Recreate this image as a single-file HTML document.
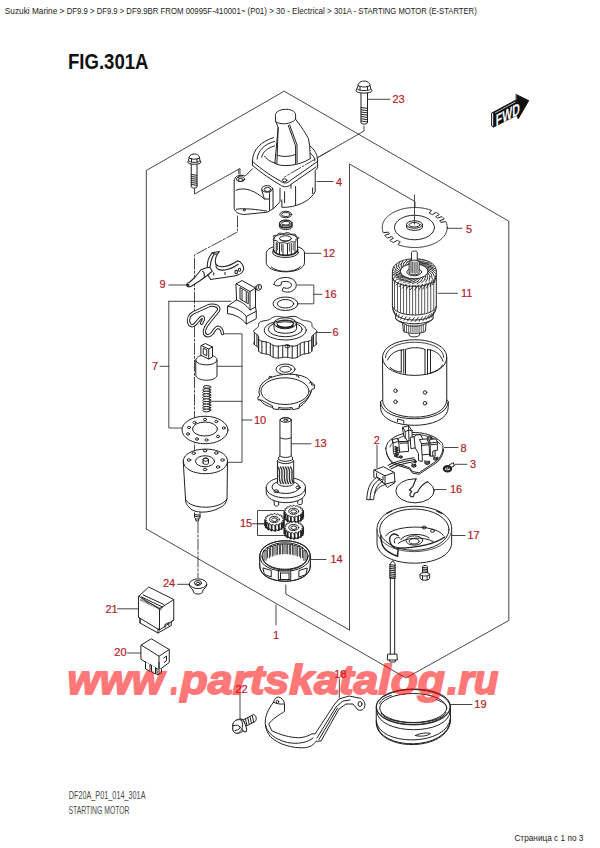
<!DOCTYPE html>
<html><head><meta charset="utf-8"><title>FIG.301A - STARTING MOTOR (E-STARTER)</title>
<style>
html,body{margin:0;padding:0;background:#fff;}
body{width:600px;height:848px;overflow:hidden;font-family:"Liberation Sans",sans-serif;}
svg{display:block;}
text{font-family:"Liberation Sans",sans-serif;}
</style></head><body>
<svg width="600" height="848" viewBox="0 0 600 848" fill="none" stroke="#222" stroke-linecap="round" stroke-linejoin="round">
<text y="13.9" font-size="9.1" fill="#222" stroke="none"><tspan x="4.8" textLength="61.9" lengthAdjust="spacingAndGlyphs">Suzuki Marine &gt; </tspan><tspan x="66.7" textLength="30.0" lengthAdjust="spacingAndGlyphs">DF9.9 &gt; </tspan><tspan x="96.7" textLength="29.6" lengthAdjust="spacingAndGlyphs">DF9.9 &gt; </tspan><tspan x="126.3" textLength="121.2" lengthAdjust="spacingAndGlyphs">DF9.9BR FROM 00995F-410001~ </tspan><tspan x="247.5" textLength="28.5" lengthAdjust="spacingAndGlyphs">(P01) &gt; </tspan><tspan x="276" textLength="58.0" lengthAdjust="spacingAndGlyphs">30 - Electrical &gt; </tspan><tspan x="334" textLength="142.7" lengthAdjust="spacingAndGlyphs">301A - STARTING MOTOR (E-STARTER)</tspan></text>
<text x="68" y="68.9" font-size="21.7" font-weight="bold" fill="#111" stroke="none" textLength="80.5" lengthAdjust="spacingAndGlyphs">FIG.301A</text>
<text x="68.7" y="798.8" font-size="11.3" fill="#4a4a4a" stroke="none" textLength="76.8" lengthAdjust="spacingAndGlyphs">DF20A_P01_014_301A</text>
<text x="68.5" y="813.8" font-size="11.3" fill="#4a4a4a" stroke="none" textLength="61" lengthAdjust="spacingAndGlyphs">STARTING MOTOR</text>
<text x="514.4" y="840.7" font-size="9" fill="#222" stroke="none" textLength="69" lengthAdjust="spacingAndGlyphs">Страница с 1 по 3</text>
<path d="M146.3,529 L146.3,170.5 L284.2,91.2 L508.8,221.2 L508.8,620.5 L406,678 L146.3,529" stroke="#333" stroke-width="0.9"/>
<path d="M349.5,630 L349.5,164 L415,201.5 L415,224" stroke="#333" stroke-width="0.9"/>
<path d="M285.8,585 L285.8,594 L349.5,630" stroke="#333" stroke-width="0.9"/>
<path d="M276,605 L276,625" stroke="#333" stroke-width="0.9"/>
<text x="273" y="639" font-size="11" fill="#b01e28" stroke="#b01e28" stroke-width="0.2">1</text>
<path d="M364,126 L364,131 L330,150.5 L310,162" stroke="#333" stroke-width="0.9"/>
<path d="M194.5,189 L194.5,194 L240,168.5 L240,178" stroke="#333" stroke-width="0.9"/>
<path d="M237.5,216 L237.5,232 L194.5,255 L194.5,452" stroke="#333" stroke-width="0.9" stroke-dasharray="11 2 2 2"/>
<path d="M198,522 L198,578" stroke="#333" stroke-width="0.9" stroke-dasharray="11 2 2 2"/>
<path d="M168.8,301.3 L231,301.3 M168.8,301.3 L168.8,428 L182,428 M160,366.3 L168.8,366.3" stroke="#333" stroke-width="0.9"/>
<text x="152" y="369.5" font-size="11" fill="#b01e28" stroke="#b01e28" stroke-width="0.2">7</text>
<path d="M224.5,333.8 L242,333.8 L242,462.3 L228,462.3 M217,366.3 L242,366.3 M211,401.3 L242,401.3 M242,420 L252,420" stroke="#333" stroke-width="0.9"/>
<text x="254" y="423.5" font-size="11" fill="#b01e28" stroke="#b01e28" stroke-width="0.2">10</text>
<path d="M368,99.3 L390,99.3" stroke="#333" stroke-width="0.9"/>
<text x="392.5" y="102.7" font-size="11" fill="#b01e28" stroke="#b01e28" stroke-width="0.2">23</text>
<path d="M317,181.5 L333,181.5" stroke="#333" stroke-width="0.9"/>
<text x="336" y="186" font-size="11" fill="#b01e28" stroke="#b01e28" stroke-width="0.2">4</text>
<path d="M305,253.3 L321,253.3" stroke="#333" stroke-width="0.9"/>
<text x="323" y="257" font-size="11" fill="#b01e28" stroke="#b01e28" stroke-width="0.2">12</text>
<path d="M297.5,285 L313.8,285 L313.8,303.8 L299,303.8 M313.8,294.3 L322,294.3" stroke="#333" stroke-width="0.9"/>
<text x="324.5" y="297.7" font-size="11" fill="#b01e28" stroke="#b01e28" stroke-width="0.2">16</text>
<path d="M315,332.5 L331,332.5" stroke="#333" stroke-width="0.9"/>
<text x="332.5" y="335.5" font-size="11" fill="#b01e28" stroke="#b01e28" stroke-width="0.2">6</text>
<path d="M168.8,285 L186,285" stroke="#333" stroke-width="0.9"/>
<text x="159.5" y="287.7" font-size="11" fill="#b01e28" stroke="#b01e28" stroke-width="0.2">9</text>
<path d="M447,228.3 L462,228.3" stroke="#333" stroke-width="0.9"/>
<text x="466" y="232.5" font-size="11" fill="#b01e28" stroke="#b01e28" stroke-width="0.2">5</text>
<path d="M438,293.3 L457.5,293.3" stroke="#333" stroke-width="0.9"/>
<text x="461" y="297" font-size="11" fill="#b01e28" stroke="#b01e28" stroke-width="0.2">11</text>
<path d="M290,443.8 L311,443.8" stroke="#333" stroke-width="0.9"/>
<text x="314.5" y="447.2" font-size="11" fill="#b01e28" stroke="#b01e28" stroke-width="0.2">13</text>
<path d="M252.5,523.8 L265,523.8" stroke="#333" stroke-width="0.9"/>
<text x="240" y="527" font-size="11" fill="#b01e28" stroke="#b01e28" stroke-width="0.2">15</text>
<path d="M311,559.5 L326,559.5" stroke="#333" stroke-width="0.9"/>
<text x="330.5" y="563" font-size="11" fill="#b01e28" stroke="#b01e28" stroke-width="0.2">14</text>
<path d="M377,445 L377,467.5" stroke="#333" stroke-width="0.9"/>
<text x="373.8" y="443.8" font-size="11" fill="#b01e28" stroke="#b01e28" stroke-width="0.2">2</text>
<path d="M444.5,447.5 L458,447.5" stroke="#333" stroke-width="0.9"/>
<text x="460.5" y="451.5" font-size="11" fill="#b01e28" stroke="#b01e28" stroke-width="0.2">8</text>
<path d="M455,464.3 L467,464.3" stroke="#333" stroke-width="0.9"/>
<text x="470" y="468.2" font-size="11" fill="#b01e28" stroke="#b01e28" stroke-width="0.2">3</text>
<path d="M432.5,489.5 L446,489.5" stroke="#333" stroke-width="0.9"/>
<text x="450" y="493.3" font-size="11" fill="#b01e28" stroke="#b01e28" stroke-width="0.2">16</text>
<path d="M452,535.5 L465,535.5" stroke="#333" stroke-width="0.9"/>
<text x="467.5" y="539.3" font-size="11" fill="#b01e28" stroke="#b01e28" stroke-width="0.2">17</text>
<path d="M177.5,584.3 L189,584.3" stroke="#333" stroke-width="0.9"/>
<text x="163" y="587.2" font-size="11" fill="#b01e28" stroke="#b01e28" stroke-width="0.2">24</text>
<path d="M117.5,608.8 L138,608.8" stroke="#333" stroke-width="0.9"/>
<text x="105.5" y="612.5" font-size="11" fill="#b01e28" stroke="#b01e28" stroke-width="0.2">21</text>
<path d="M127.5,653 L141,653" stroke="#333" stroke-width="0.9"/>
<text x="114.3" y="656.3" font-size="11" fill="#b01e28" stroke="#b01e28" stroke-width="0.2">20</text>
<path d="M240,693.8 L240,718.8" stroke="#333" stroke-width="0.9"/>
<text x="235.5" y="692.5" font-size="11" fill="#b01e28" stroke="#b01e28" stroke-width="0.2">22</text>
<path d="M339.3,678.8 L339.3,697.5" stroke="#333" stroke-width="0.9"/>
<text x="334.3" y="677.5" font-size="11" fill="#b01e28" stroke="#b01e28" stroke-width="0.2">18</text>
<path d="M450,704.5 L472,704.5" stroke="#333" stroke-width="0.9"/>
<text x="474.3" y="708" font-size="11" fill="#b01e28" stroke="#b01e28" stroke-width="0.2">19</text>
<g transform="translate(330 70) scale(0.25)" stroke-width="4.00" ><path d="M112,62 C112,38 160,38 160,62 L163,75 C163,85 108,85 108,75 Z" fill="#fff"/><path d="M108,75 L104,82 C104,96 168,96 168,82 L163,75 M120,66 L120,80 M150,66 L150,80 M112,62 C125,70 148,70 160,62" /><path d="M124,92 L124,212 C128,218 146,218 150,212 L150,92" /><path d="M124,150L150,153.6M124,159L150,162.6M124,168L150,171.6M124,177L150,180.6M124,186L150,189.6M124,195L150,198.6M124,204L150,207.6" /></g>
<g transform="translate(130 80) scale(0.25)" stroke-width="4.00" ><path d="M236,312 C236,290 278,290 278,312 L280,322 C280,332 234,332 234,322 Z" fill="#fff"/><path d="M234,322 L231,328 C231,340 284,340 284,328 L280,322 M246,314 L246,328 M268,314 L268,328 M236,312 C248,319 268,319 278,312" /><path d="M245,337 L245,428 C250,434 264,434 268,428 L268,337" /><path d="M245,378L268,381.2M245,386L268,389.2M245,394L268,397.2M245,402L268,405.2M245,410L268,413.2M245,418L268,421.2" /></g>
<g transform="translate(225 100) scale(0.18333333333333332)" stroke-width="5.45" ><path d="M275,80 C275,40 385,40 385,80 L385,105 L455,210 L462,250 C490,270 505,300 505,330 L505,370 L492,385 L492,500 C470,540 420,575 340,585 L310,585 L310,545 L300,555 L265,592 L230,612 L110,624 C80,625 55,615 50,590 L50,440 C50,415 80,405 110,415 L150,375 L150,330 C150,270 200,225 262,205 L278,120 Z" fill="#fff" stroke="none"/><path d="M275,82 C275,40 385,40 385,82 L385,105 C360,135 300,135 278,120 Z" /><path d="M278,120 L290,150 L272,345 M290,150 L283,350 M385,105 C420,150 445,190 455,210 L462,250 L465,320" /><path d="M345,138 L385,250 L385,348 M353,136 L393,246 L393,344" /><path d="M283,300 C310,312 360,310 385,296 M272,345 C300,368 400,362 465,320" /><path d="M150,330 C150,270 200,225 265,205 M175,322 C180,275 215,240 270,226 M200,312 C205,285 230,262 270,250 M215,306 C235,330 258,342 275,343" /><path d="M462,250 C490,270 505,300 505,330 M466,290 C480,300 490,315 490,332" /><path d="M150,330 L150,356 M150,335 C200,380 260,420 300,440 C320,458 340,456 355,440 L505,335" /><path d="M150,356 C200,400 260,440 300,462 C320,478 345,476 360,460 L497,365" /><ellipse cx="325" cy="438" rx="13" ry="8" /><path d="M505,330 L505,370 L492,385 L492,500 C470,540 420,575 340,585 L310,585 L310,545 M360,462 L360,482 M385,472 L385,575 M325,500 L325,560 M478,480 L478,510" /><path d="M50,440 C50,415 80,405 110,415 L150,375 M50,440 L50,590 C55,615 80,625 110,624 L230,612 L265,592 L300,555 L300,482" /><ellipse cx="85" cy="432" rx="22" ry="13" /><ellipse cx="85" cy="436" rx="14" ry="8" /><path d="M60,492 C110,470 170,500 215,540 L243,540" /><ellipse cx="230" cy="485" rx="30" ry="18" /><ellipse cx="232" cy="488" rx="18" ry="11" /><path d="M200,490 L215,540 M262,490 L262,592 M243,505 L243,600" /><ellipse cx="105" cy="600" rx="6" ry="5" /><path d="M62,596 C100,588 180,598 228,606" /></g>
<g transform="translate(215 95) scale(0.25)" stroke-width="4.00" ><ellipse cx="283" cy="478" rx="24" ry="13" /><ellipse cx="283" cy="478" rx="17" ry="8" /><path d="M258,512 C258,498 308,498 308,512 L308,528 C308,542 258,542 258,528 Z" fill="#fff"/><ellipse cx="283" cy="512" rx="25" ry="12" /><ellipse cx="283" cy="513" rx="17" ry="7" /><path d="M258,520 C262,534 304,534 308,520" stroke-width="6"/></g>
<g transform="translate(215 225) scale(0.25)" stroke-width="4.00" ><path d="M205,112 C205,70 358,70 358,112 L358,150 C358,200 205,200 205,150 Z" fill="#fff"/><path d="M225,168 C250,192 320,192 342,166" /><ellipse cx="282" cy="110" rx="52" ry="20" /><path d="M235,108 L235,55 C235,30 330,30 330,55 L330,108" fill="#fff"/><path d="M334.8,52.0L333.9,53.4L331.4,54.7L328.2,55.8L325.1,56.8L323.0,57.8L322.2,58.9L322.7,60.4L323.6,62.0L324.1,63.7L323.6,65.3L321.6,66.5L318.3,67.1L314.3,67.3L310.1,67.3L306.5,67.2L303.6,67.6L301.5,68.4L299.7,69.8L297.7,71.3L295.3,72.7L292.3,73.5L288.8,73.7L285.3,73.1L282.0,72.0L279.0,70.8L276.3,70.0L273.6,69.7L270.5,70.0L266.9,70.6L262.9,71.2L259.0,71.4L255.6,71.1L253.1,70.0L251.7,68.5L251.0,66.7L250.5,65.1L249.5,63.9L247.4,63.1L244.3,62.5L240.4,62.0L236.6,61.3L233.6,60.4L232.1,59.1L232.4,57.5L234.0,56.0L236.2,54.5L238.1,53.2L238.8,52.0L238.1,50.8L236.2,49.5L234.0,48.0L232.4,46.5L232.1,44.9L233.6,43.6L236.6,42.7L240.4,42.0L244.3,41.5L247.4,40.9L249.5,40.1L250.5,38.9L251.0,37.3L251.7,35.5L253.1,34.0L255.6,32.9L259.0,32.6L262.9,32.8L266.9,33.4L270.5,34.0L273.6,34.3L276.3,34.0L279.0,33.2L282.0,32.0L285.3,30.9L288.8,30.3L292.3,30.5L295.3,31.3L297.7,32.7L299.7,34.2L301.5,35.6L303.6,36.4L306.5,36.8L310.1,36.7L314.3,36.7L318.3,36.9L321.6,37.5L323.6,38.7L324.1,40.3L323.6,42.0L322.7,43.6L322.2,45.1L323.0,46.2L325.1,47.2L328.2,48.2L331.4,49.3L333.9,50.6L334.8,52.0" /><path d="M245,70 L245,112 M258,74 L258,118 M272,76 L272,122 M290,76 L290,122 M305,74 L305,118 M320,70 L320,112" /><path d="M250,72 L250,100 M266,76 L266,105 M298,76 L298,105 M313,72 L313,100" stroke="#666"/><ellipse cx="282" cy="54" rx="24" ry="11" fill="#fff"/><path d="M262,58 C268,66 296,66 302,58" /><path d="M233,100 C245,128 320,128 331,100" stroke-width="7"/><path d="M236,238 C236,215 275,205 300,212 C328,220 332,248 315,260 C300,272 278,270 268,262 L274,250 C290,258 306,250 306,240 C306,228 285,222 266,228 L264,240 C252,246 238,244 236,238 Z" /><ellipse cx="282" cy="315" rx="50" ry="27" /><ellipse cx="282" cy="315" rx="33" ry="17" /><path d="M161,425 L161,473 C181,553 381,553 401,473 L401,425 Z" fill="#fff" stroke="none"/><path d="M404.4,467.7L405.7,469.3L406.6,471.0L407.0,472.7L406.8,474.4L406.1,476.1L404.9,477.8L403.2,479.4L401.3,481.0L399.2,482.5L397.0,483.9L394.9,485.3L393.0,486.7L391.3,488.1L390.0,489.6L389.0,491.0L388.4,492.6L388.0,494.2L387.9,495.9L387.9,497.6L387.9,499.4L387.9,501.2L387.6,503.0L387.0,504.8L386.0,506.5L384.6,508.1L382.7,509.6L380.4,510.8L377.7,512.0L374.6,512.9L371.3,513.7L367.9,514.4L364.4,515.0L360.9,515.5L357.5,516.0L354.4,516.6L351.4,517.3L348.7,518.1L346.2,519.1L343.9,520.2L341.7,521.4L339.6,522.7L337.5,524.2L335.4,525.6L333.1,527.1L330.6,528.5L328.0,529.7L325.1,530.7L322.0,531.5L318.7,532.1L315.3,532.4L311.7,532.5L308.1,532.3L304.5,531.9L300.9,531.4L297.4,530.9L293.9,530.3L290.6,529.8L287.3,529.4L284.2,529.1L281.0,529.0L277.8,529.1L274.7,529.4L271.4,529.8L268.1,530.3L264.6,530.9L261.1,531.4L257.5,531.9L253.9,532.3L250.3,532.5L246.7,532.4L243.3,532.1L240.0,531.5L236.9,530.7L234.0,529.7L231.4,528.5L228.9,527.1L226.6,525.6L224.5,524.2L222.4,522.7L220.3,521.4L218.1,520.2L215.8,519.1L213.3,518.1L210.6,517.3L207.6,516.6L204.5,516.0L201.1,515.5L197.6,515.0L194.1,514.4L190.7,513.7L187.4,512.9L184.3,512.0L181.6,510.8L179.3,509.6L177.4,508.1L176.0,506.5L175.0,504.8L174.4,503.0L174.1,501.2L174.1,499.4L174.1,497.6L174.1,495.9L174.0,494.2L173.6,492.6L173.0,491.0L172.0,489.6L170.7,488.1L169.0,486.7L167.1,485.3L165.0,483.9L162.8,482.5L160.7,481.0L158.8,479.4L157.1,477.8L155.9,476.1L155.2,474.4L155.0,472.7L155.4,471.0L156.3,469.3L157.6,467.7" fill="#fff"/><path d="M407.0,425.0L406.6,426.9L405.6,428.9L404.0,430.7L401.9,432.5L399.5,434.2L397.1,435.9L394.7,437.5L392.5,439.1L390.8,440.7L389.4,442.3L388.5,444.0L388.1,445.8L387.9,447.7L387.9,449.7L387.9,451.8L387.8,453.9L387.3,455.9L386.4,457.9L385.0,459.7L382.9,461.4L380.3,462.9L377.2,464.1L373.7,465.2L369.8,466.0L365.9,466.7L361.9,467.3L358.0,468.0L354.4,468.6L351.1,469.4L348.0,470.3L345.2,471.5L342.7,472.8L340.3,474.3L337.9,475.9L335.5,477.6L332.9,479.2L330.1,480.7L327.0,482.1L323.6,483.2L319.9,483.9L316.1,484.4L312.0,484.5L307.9,484.3L303.8,483.9L299.8,483.3L295.8,482.6L292.0,482.0L288.2,481.5L284.6,481.2L281.0,481.1L277.4,481.2L273.8,481.5L270.0,482.0L266.2,482.6L262.2,483.3L258.2,483.9L254.1,484.3L250.0,484.5L245.9,484.4L242.1,483.9L238.4,483.2L235.0,482.1L231.9,480.7L229.1,479.2L226.5,477.6L224.1,475.9L221.7,474.3L219.3,472.8L216.8,471.5L214.0,470.3L210.9,469.4L207.6,468.6L204.0,468.0L200.1,467.3L196.1,466.7L192.2,466.0L188.3,465.2L184.8,464.1L181.7,462.9L179.1,461.4L177.0,459.7L175.6,457.9L174.7,455.9L174.2,453.9L174.1,451.8L174.1,449.7L174.1,447.7L173.9,445.8L173.5,444.0L172.6,442.3L171.2,440.7L169.5,439.1L167.3,437.5L164.9,435.9L162.5,434.2L160.1,432.5L158.0,430.7L156.4,428.9L155.4,426.9L155.0,425.0L155.4,423.1L156.4,421.1L158.0,419.3L160.1,417.5L162.5,415.8L164.9,414.1L167.3,412.5L169.5,410.9L171.2,409.3L172.6,407.7L173.5,406.0L173.9,404.2L174.1,402.3L174.1,400.3L174.1,398.2L174.2,396.1L174.7,394.1L175.6,392.1L177.0,390.3L179.1,388.6L181.7,387.1L184.8,385.9L188.3,384.8L192.2,384.0L196.1,383.3L200.1,382.7L204.0,382.0L207.6,381.4L210.9,380.6L214.0,379.7L216.8,378.5L219.3,377.2L221.7,375.7L224.1,374.1L226.5,372.4L229.1,370.8L231.9,369.3L235.0,367.9L238.4,366.8L242.1,366.1L245.9,365.6L250.0,365.5L254.1,365.7L258.2,366.1L262.2,366.7L266.2,367.4L270.0,368.0L273.8,368.5L277.4,368.8L281.0,368.9L284.6,368.8L288.2,368.5L292.0,368.0L295.8,367.4L299.8,366.7L303.8,366.1L307.9,365.7L312.0,365.5L316.1,365.6L319.9,366.1L323.6,366.8L327.0,367.9L330.1,369.3L332.9,370.8L335.5,372.4L337.9,374.1L340.3,375.7L342.7,377.2L345.2,378.5L348.0,379.7L351.1,380.6L354.4,381.4L358.0,382.0L361.9,382.7L365.9,383.3L369.8,384.0L373.7,384.8L377.2,385.9L380.3,387.1L382.9,388.6L385.0,390.3L386.4,392.1L387.3,394.1L387.8,396.1L387.9,398.2L387.9,400.3L387.9,402.3L388.1,404.2L388.5,406.0L389.4,407.7L390.8,409.3L392.5,410.9L394.7,412.5L397.1,414.1L399.5,415.8L401.9,417.5L404.0,419.3L405.6,421.1L406.6,423.1L407.0,425.0" fill="#fff"/><path d="M404.4,430.3L404.4,478.3" /><path d="M394.2,437.8L394.2,485.8" /><path d="M387.9,447.3L387.9,495.3" /><path d="M387.2,456.4L387.2,504.4" /><path d="M374.5,465.0L374.5,513.0" /><path d="M357.2,468.1L357.2,516.1" /><path d="M340.8,473.9L340.8,521.9" /><path d="M329.4,481.1L329.4,529.1" /><path d="M308.9,484.3L308.9,532.3" /><path d="M291.1,481.9L291.1,529.9" /><path d="M270.9,481.9L270.9,529.9" /><path d="M253.1,484.3L253.1,532.3" /><path d="M232.6,481.1L232.6,529.1" /><path d="M221.2,473.9L221.2,521.9" /><path d="M204.8,468.1L204.8,516.1" /><path d="M187.5,465.0L187.5,513.0" /><path d="M174.8,456.4L174.8,504.4" /><path d="M174.1,447.3L174.1,495.3" /><path d="M167.8,437.8L167.8,485.8" /><path d="M157.6,430.3L157.6,478.3" /><ellipse cx="281" cy="421" rx="84" ry="39" /><ellipse cx="281" cy="417" rx="68" ry="30" /><path d="M236,393 L236,415 C236,439 326,439 326,415 L326,393" fill="#fff"/><ellipse cx="281" cy="393" rx="45" ry="22" /><ellipse cx="281" cy="395" rx="33" ry="15" /><path d="M250,401 C256,413 306,413 312,401" stroke-width="7"/><ellipse cx="289" cy="485" rx="9" ry="7" /><ellipse cx="282" cy="577" rx="38" ry="21" /><ellipse cx="282" cy="577" rx="23" ry="12" /></g>
<g transform="translate(180 245) scale(0.15)" stroke-width="7"><path d="M215,52 L262,44 C240,70 228,100 240,128 C260,155 320,150 385,105 C405,110 425,135 425,160 C420,185 400,195 385,200 C340,215 280,215 235,225 L205,230 L185,200 L165,215 L130,240 L75,275 C55,285 40,275 45,262 C48,252 58,250 62,250 L100,215 L140,165 L182,150 C180,110 195,75 215,52 Z" fill="#fff"/><path d="M240,128 L242,152 C262,178 325,172 388,128 M215,52 C222,60 232,62 245,60 M200,150 C205,120 205,90 228,62 M182,150 L200,150 L215,175 L185,200 M225,185 L225,200 M300,182 L300,196 M150,175 C160,180 165,195 160,212" /><ellipse cx="375" cy="180" rx="9" ry="11" /><ellipse cx="397" cy="165" rx="8" ry="10" /><ellipse cx="54" cy="268" rx="6" ry="6" /></g>
<g transform="translate(150 250) scale(0.25)" stroke-width="4.00" ><path d="M345,135 L368,122 L422,152 L422,228 L425,245 L425,275 L385,296 C370,275 340,256 310,255 L310,225 L345,200 Z" fill="#fff"/><path d="M345,135 L400,166 L422,152 M400,166 L400,240 L422,228 M345,200 C365,205 385,220 400,240 M360,152 L360,196 L393,215 L393,171 Z M368,160 L368,198 M385,170 L385,208" /><path d="M310,225 C340,228 370,245 385,266 L385,296 M385,266 L425,245" /><path d="M420,162 L430,158 M420,148 L430,144" /><ellipse cx="434" cy="150" rx="8" ry="12" fill="#fff"/><ellipse cx="440" cy="148" rx="6" ry="10" fill="#fff"/><path d="M183,440 C183,412 268,412 268,440 L268,500 C268,528 183,528 183,500 Z" fill="#fff"/><path d="M183,442 C188,466 263,466 268,442" /><path d="M205,382 L222,374 L250,388 L250,428 L235,436 L205,422 Z" fill="#fff"/><path d="M205,382 L235,396 L250,388 M235,396 L235,436 M213,394 L213,416 L227,423 L227,401 Z" /><ellipse cx="228" cy="548.0" rx="15.0" ry="5.622222222222223" fill="#fff"/><ellipse cx="228" cy="558.2" rx="15.0" ry="5.622222222222223" fill="#fff"/><ellipse cx="228" cy="568.4" rx="15.0" ry="5.622222222222223" fill="#fff"/><ellipse cx="228" cy="578.7" rx="15.0" ry="5.622222222222223" fill="#fff"/><ellipse cx="228" cy="588.9" rx="15.0" ry="5.622222222222223" fill="#fff"/><ellipse cx="228" cy="599.1" rx="15.0" ry="5.622222222222223" fill="#fff"/><ellipse cx="228" cy="609.3" rx="15.0" ry="5.622222222222223" fill="#fff"/><ellipse cx="228" cy="619.6" rx="15.0" ry="5.622222222222223" fill="#fff"/><ellipse cx="228" cy="629.8" rx="15.0" ry="5.622222222222223" fill="#fff"/><ellipse cx="228" cy="640.0" rx="15.0" ry="5.622222222222223" fill="#fff"/></g>
<g transform="translate(180 300) scale(0.1)"><path d="M425,335 C420,300 405,275 380,272 C355,272 340,310 320,335 C300,360 265,368 248,340 C235,315 255,270 280,235 L385,105 C395,85 380,60 350,55 C320,48 300,50 280,60 L130,130 C95,150 80,190 88,225 C95,255 120,265 140,250 C170,230 190,190 215,172 C230,165 240,185 230,205 L215,232" stroke-width="34" fill="#fff"/><path d="M425,335 C420,300 405,275 380,272 C355,272 340,310 320,335 C300,360 265,368 248,340 C235,315 255,270 280,235 L385,105 C395,85 380,60 350,55 C320,48 300,50 280,60 L130,130 C95,150 80,190 88,225 C95,255 120,265 140,250 C170,230 190,190 215,172 C230,165 240,185 230,205 L215,232" stroke="#fff" stroke-width="14"/></g>
<g transform="translate(130 400) scale(0.25)" stroke-width="4.00" ><ellipse cx="306" cy="-40.0" rx="15.0" ry="5.6375" fill="#fff"/><ellipse cx="306" cy="-29.8" rx="15.0" ry="5.6375" fill="#fff"/><ellipse cx="306" cy="-19.5" rx="15.0" ry="5.6375" fill="#fff"/><ellipse cx="306" cy="-9.2" rx="15.0" ry="5.6375" fill="#fff"/><ellipse cx="306" cy="1.0" rx="15.0" ry="5.6375" fill="#fff"/><ellipse cx="306" cy="11.2" rx="15.0" ry="5.6375" fill="#fff"/><ellipse cx="306" cy="21.5" rx="15.0" ry="5.6375" fill="#fff"/><ellipse cx="306" cy="31.8" rx="15.0" ry="5.6375" fill="#fff"/><ellipse cx="306" cy="42.0" rx="15.0" ry="5.6375" fill="#fff"/><ellipse cx="300" cy="120" rx="92" ry="55" fill="#fff"/><ellipse cx="300" cy="116" rx="50" ry="28" /><ellipse cx="258" cy="90" rx="6" ry="5" /><ellipse cx="300" cy="78" rx="6" ry="5" /><ellipse cx="345" cy="86" rx="6" ry="5" /><ellipse cx="375" cy="112" rx="6" ry="5" /><ellipse cx="352" cy="146" rx="6" ry="5" /><ellipse cx="306" cy="160" rx="6" ry="5" /><ellipse cx="268" cy="156" rx="6" ry="5" /><ellipse cx="232" cy="136" rx="6" ry="5" /><ellipse cx="236" cy="110" rx="6" ry="5" /><path d="M213,245 C213,180 390,180 390,245 L388,395 C385,412 375,425 360,430 C320,455 250,455 236,428 C226,420 222,410 222,398 Z" fill="#fff"/><path d="M213,245 C213,312 390,312 390,245 M222,398 C240,440 365,440 388,395" /><ellipse cx="300" cy="245" rx="38" ry="22" /><path d="M292,252 L292,238 C292,230 314,230 314,238 L314,252 C314,260 292,260 292,252 Z" fill="#fff"/><ellipse cx="303" cy="239" rx="11" ry="6" /><ellipse cx="255" cy="213" rx="7" ry="5" /><ellipse cx="300" cy="203" rx="7" ry="5" /><ellipse cx="345" cy="212" rx="7" ry="5" /><ellipse cx="370" cy="240" rx="7" ry="5" /><ellipse cx="352" cy="268" rx="7" ry="5" /><ellipse cx="300" cy="278" rx="7" ry="5" /><ellipse cx="236" cy="240" rx="7" ry="5" /><path d="M258,452 L258,470 C262,478 276,478 280,470 L280,450 M258,458 L280,461 M258,465 L280,468" fill="#fff"/><path d="M262,474 L264,484 L274,484 L276,474" /></g>
<g transform="translate(350 195) scale(0.25)" stroke-width="4.00" ><path d="M389.0,130.0L389.0,131.4L388.9,132.8L388.8,134.2L388.7,135.6L388.5,137.0L388.3,138.4L388.0,139.7L387.7,141.1L387.4,142.5L387.0,143.9L386.6,145.3L386.2,146.6L385.7,148.0L385.1,149.4L384.6,150.7L384.0,152.1L383.3,153.4L382.6,154.7L381.9,156.0L381.2,157.4L380.4,158.7L379.5,160.0L378.7,161.3L377.8,162.5L376.8,163.8L375.8,165.1L374.8,166.3L373.8,167.6L372.7,168.8L371.6,170.0L370.4,171.2L369.2,172.4L368.0,173.6L366.8,174.7L365.5,175.9L364.2,177.0L362.8,178.1L361.4,179.3L360.0,180.3L358.6,181.4L357.1,182.5L355.6,183.5L354.1,184.6L352.5,185.6L350.9,186.6L349.3,187.5L347.7,188.5L346.0,189.5L344.3,190.4L342.6,191.3L340.8,192.2L339.0,193.0L337.2,193.9L335.4,194.7L333.6,195.5L331.7,196.3L329.8,197.1L327.9,197.8L326.0,198.6L324.0,199.3L322.0,200.0L320.0,200.6L318.0,201.3L316.0,201.9L313.9,202.5L311.9,203.1L309.8,203.6L307.7,204.2L305.6,204.7L303.5,205.2L301.3,205.6L299.2,206.1L297.0,206.5L294.8,206.9L292.6,207.3L290.4,207.6L288.2,207.9L286.0,208.3L283.8,208.5L281.6,208.8L279.3,209.0L277.1,209.2L274.8,209.4L272.6,209.6L270.3,209.7L268.1,209.8L265.8,209.9L263.5,210.0L261.3,210.0L259.0,210.0L256.7,210.0L254.5,210.0L252.2,209.9L249.9,209.8L247.7,209.7L245.4,209.6L243.2,209.4L240.9,209.2L238.7,209.0L236.4,208.8L234.2,208.5L232.0,208.3L229.8,207.9L227.6,207.6L225.4,207.3L223.2,206.9L221.0,206.5L218.8,206.1L216.7,205.6L214.5,205.2L212.4,204.7L210.3,204.2L208.2,203.6L206.1,203.1L204.1,202.5L202.0,201.9L200.0,201.3L198.0,200.6L196.0,200.0L194.0,199.3L192.0,198.6L201.1,187.0L199.5,186.4L197.9,185.7L196.4,185.0L194.8,184.4L193.3,183.7L191.8,183.0L190.3,182.2L188.8,181.5L173.7,190.4L172.0,189.5L170.3,188.5L168.7,187.5L167.1,186.6L165.5,185.6L163.9,184.6L162.4,183.5L160.9,182.5L159.4,181.4L174.1,172.3L172.9,171.4L171.8,170.4L170.7,169.5L169.5,168.5L168.5,167.6L167.4,166.6L148.8,172.4L147.6,171.2L146.4,170.0L145.3,168.8L144.2,167.6L143.2,166.3L142.2,165.1L141.2,163.8L140.2,162.5L139.3,161.3L157.8,155.2L157.1,154.1L156.4,153.0L155.7,151.9L155.1,150.8L154.6,149.6L154.0,148.5L133.4,150.7L132.9,149.4L132.3,148.0L131.8,146.6L131.4,145.3L131.0,143.9L130.6,142.5L130.3,141.1L130.0,139.7L129.7,138.4L129.5,137.0L129.3,135.6L129.2,134.2L129.1,132.8L129.0,131.4L129.0,130.0L129.0,128.6L129.1,127.2L129.2,125.8L129.3,124.4L129.5,123.0L129.7,121.6L130.0,120.3L130.3,118.9L130.6,117.5L131.0,116.1L131.4,114.7L131.8,113.4L132.3,112.0L132.9,110.6L133.4,109.3L134.0,107.9L134.7,106.6L135.4,105.3L136.1,104.0L136.8,102.6L137.6,101.3L138.5,100.0L139.3,98.7L140.2,97.5L141.2,96.2L142.2,94.9L143.2,93.7L144.2,92.4L145.3,91.2L146.4,90.0L147.6,88.8L148.8,87.6L150.0,86.4L151.2,85.3L152.5,84.1L153.8,83.0L155.2,81.9L156.6,80.7L158.0,79.7L159.4,78.6L160.9,77.5L162.4,76.5L163.9,75.4L165.5,74.4L167.1,73.4L168.7,72.5L170.3,71.5L172.0,70.5L173.7,69.6L175.4,68.7L177.2,67.8L179.0,67.0L180.8,66.1L182.6,65.3L184.4,64.5L186.3,63.7L188.2,62.9L190.1,62.2L192.0,61.4L194.0,60.7L196.0,60.0L198.0,59.4L200.0,58.7L202.0,58.1L204.1,57.5L206.1,56.9L208.2,56.4L210.3,55.8L212.4,55.3L214.5,54.8L216.7,54.4L218.8,53.9L221.0,53.5L223.2,53.1L225.4,52.7L227.6,52.4L229.8,52.1L232.0,51.7L234.2,51.5L236.4,51.2L238.7,51.0L240.9,50.8L243.2,50.6L245.4,50.4L247.7,50.3L249.9,50.2L252.2,50.1L254.5,50.0L256.7,50.0L259.0,50.0L261.3,50.0L263.5,50.0L265.8,50.1L268.1,50.2L270.3,50.3L272.6,50.4L274.8,50.6L277.1,50.8L279.3,51.0L281.6,51.2L283.8,51.5L286.0,51.7L288.2,52.1L290.4,52.4L292.6,52.7L294.8,53.1L297.0,53.5L299.2,53.9L301.3,54.4L303.5,54.8L305.6,55.3L307.7,55.8L309.8,56.4L311.9,56.9L313.9,57.5L316.0,58.1L318.0,58.7L320.0,59.4L322.0,60.0L324.0,60.7L326.0,61.4L316.9,73.0L318.5,73.6L320.1,74.3L321.6,75.0L323.2,75.6L324.7,76.3L326.2,77.0L327.7,77.8L329.2,78.5L344.3,69.6L346.0,70.5L347.7,71.5L349.3,72.5L350.9,73.4L352.5,74.4L354.1,75.4L355.6,76.5L357.1,77.5L342.7,86.8L343.9,87.7L345.1,88.6L346.2,89.6L347.3,90.5L348.5,91.5L349.5,92.4L368.0,86.4L369.2,87.6L370.4,88.8L371.6,90.0L372.7,91.2L373.8,92.4L374.8,93.7L375.8,94.9L376.8,96.2L358.8,102.7L359.5,103.7L360.2,104.8L360.9,105.9L361.6,107.0L362.3,108.1L362.9,109.2L383.3,106.6L384.0,107.9L384.6,109.3L385.1,110.6L385.7,112.0L386.2,113.4L386.6,114.7L387.0,116.1L387.4,117.5L387.7,118.9L388.0,120.3L388.3,121.6L388.5,123.0L388.7,124.4L388.8,125.8L388.9,127.2L389.0,128.6L389.0,130.0Z" fill="#fff"/><ellipse cx="258" cy="130" rx="80" ry="49" /><path d="M226,118 L226,128 C226,146 290,146 290,128 L290,118" fill="#fff"/><ellipse cx="258" cy="118" rx="32" ry="15" fill="#fff"/><ellipse cx="258" cy="119" rx="22" ry="9" /><path d="M258,0 L258,116" stroke="#333" stroke-width="3.6"/></g>
<g transform="translate(350 195) scale(0.25)" stroke-width="4.00" ><g transform="translate(257 0) scale(0.93 1) translate(-257 0)"><path d="M234,548 L234,560 C240,570 274,570 280,560 L280,548" fill="#fff"/><path d="M163,305 C163,238 352,238 352,305 L352,445 C352,460 345,470 338,478 L338,495 C330,505 315,510 308,512 L305,545 C290,556 225,556 210,545 L207,512 C195,508 182,502 177,495 L177,478 C168,470 163,460 163,445 Z" fill="#fff"/><path d="M163,445 C175,492 340,492 352,445 M177,478 C200,508 315,508 338,478 M177,495 C200,522 315,522 338,495 M207,512 C225,530 290,530 308,512" /><path d="M172,344L172,459M185,351L185,467M198,355L198,471M211,358L211,475M224,360L224,477M237,361L237,478M250,362L250,479M263,362L263,479M276,361L276,478M289,360L289,477M302,358L302,475M315,355L315,472M328,351L328,468M341,345L341,461" stroke="#555"/><path d="M163,330 C170,378 345,378 352,330" /><ellipse cx="257" cy="305" rx="60" ry="30" /><ellipse cx="257" cy="308" rx="32" ry="15" /><path d="M317,305L332,319M335,310L344,325M316,311L325,327M331,318L334,334M312,317L314,334M325,326L321,342M306,323L302,339M315,333L306,348M297,327L287,343M303,338L288,352M287,331L271,345M289,342L269,355M276,334L254,346M274,345L249,355M263,335L238,345M257,346L230,353M251,335L222,342M241,345L212,349M238,334L208,337M226,343L195,343M227,331L196,331M211,338L182,336M217,327L186,324M199,333L172,327M208,323L180,316M190,326L165,317M202,317L177,308M183,319L163,307M198,311L178,299M179,310L165,297M197,305L182,291M179,302L170,287M198,299L189,283M183,294L180,278M202,293L200,276M189,286L193,270M208,287L212,271M199,279L208,264M217,283L227,267M211,274L226,260M227,279L243,265M225,270L245,257M238,276L260,264M240,267L265,257M251,275L276,265M257,266L284,259M263,275L292,268M273,267L302,263M276,276L306,273M288,269L319,269M287,279L318,279M303,274L332,276M297,283L328,286M315,279L342,285M306,287L334,294M324,286L349,295M312,293L337,302M331,293L351,305M316,299L336,311M335,302L349,315M349,322L344,351M347,459L338,482M344,331L336,359M342,467L331,489M335,339L325,366M333,473L321,494M323,347L310,372M322,479L308,499M309,353L294,376M308,484L294,503M293,357L277,379M292,487L278,505M275,360L259,380M275,489L261,506M257,361L240,379M257,490L244,506M239,360L222,377M239,489L228,504M221,357L206,373M222,487L213,501M205,353L192,367M206,484L199,497M191,347L180,360M192,479L188,491M179,339L171,352M181,473L179,485M170,331L165,344M172,467L174,479M165,322L163,335M167,459L171,472" stroke="#333"/><path d="M245,262 L245,230 C245,222 270,222 270,230 L270,262" fill="#fff"/><path d="M235,312 L235,268 C235,258 278,258 278,268 L278,312 C278,322 235,322 235,312" fill="#fff"/><path d="M243,266 L243,310 M251,268 L251,312 M260,268 L260,314 M269,268 L269,312" /><path d="M215,520L215,548M224,520L224,548M233,520L233,548M242,520L242,548M251,520L251,548M260,520L260,548M269,520L269,548M278,520L278,548M287,520L287,548M296,520L296,548" stroke="#555"/></g></g>
<g transform="translate(350 320) scale(0.25)" stroke-width="4.00" ><path d="M130,150 C130,55 387,55 387,150 L387,320 L393,326 L393,350 C393,445 122,445 122,350 L122,326 L130,320 Z" fill="#fff"/><path d="M130,150 C130,246 387,246 387,150" /><path d="M142,150 C142,68 375,68 375,150" stroke="#444"/><path d="M130,320 C130,412 387,412 387,320 M122,328 C124,418 391,418 393,328" /><path d="M190,406 L190,396 L215,402 L215,413" /><path d="M205,120 L205,208 M215,118 L215,212 M222,118 L222,214 M300,118 L300,218 M310,118 L310,216 M322,120 L322,212" /><path d="M222,118 C240,108 285,108 300,118 M150,160 C160,135 185,122 205,120 M322,120 C345,125 365,140 372,165 M160,190 C170,200 190,208 205,208 M322,212 C345,205 362,195 370,180" /><path d="M205,122 L215,118 M322,120 L310,118" /><ellipse cx="182" cy="283" rx="7" ry="7" /><ellipse cx="182" cy="327" rx="7" ry="7" /><ellipse cx="300" cy="290" rx="7" ry="7" /><ellipse cx="300" cy="333" rx="7" ry="7" /></g>
<g transform="translate(380 422) scale(0.11667)" stroke-width="8.5"><path d="M50,225 C55,150 150,100 260,90 C370,85 480,115 535,185 C550,230 530,290 490,330 L335,435 L278,425 L255,392 L110,345 C75,320 50,270 50,225 Z" fill="#fff"/><path d="M55,262 C68,310 90,340 110,358 L250,402 M255,405 L278,438 L335,448 L492,343 C520,315 545,270 546,232" /><path d="M85,215 C110,150 190,118 262,108 C370,100 470,130 515,190" stroke="#444"/><path d="M195,45 L245,32 L275,75 L275,152 L235,162 L205,120 Z" fill="#fff"/><path d="M245,32 L246,70 L275,75 M195,45 L216,82 L216,140 M216,82 L246,70 M246,70 L248,150" /><path d="M105,150 L150,140 L165,168 L240,166 L245,252 L168,258 L130,300 L115,262 L112,178 Z" fill="#fff"/><path d="M112,178 L160,168 L168,258 M165,170 L243,168 M172,182 L236,180 M105,150 L112,178 M150,140 L160,168" /><path d="M262,132 L292,126 L302,222 L268,228 Z" fill="#fff"/><path d="M292,126 L310,112 L345,106 L366,142 L355,186 M302,222 L330,270 L330,330 L362,340 L362,282" /><path d="M340,150 L400,145 L420,180 L430,180 L420,150 L480,145 L492,172 L492,242 L472,246 L472,292 L425,292 L425,276 L360,282 L355,186 Z" fill="#fff"/><path d="M355,186 L420,180 L425,276 M430,180 L492,172 M430,180 L432,290 M362,200 L418,195 M440,195 L486,190 M472,246 L452,250 L452,292" /><ellipse cx="425" cy="138" rx="20" ry="18" fill="#fff"/><ellipse cx="425" cy="138" rx="10" ry="9" /><path d="M128,212 L156,222 L128,232 L156,242 L128,252 L156,262 L128,272 L156,282 L128,292 L156,302" stroke-width="12"/><path d="M70,372 C120,340 190,322 292,306 M82,388 C130,352 200,336 300,322 M96,402 C150,366 220,350 310,336" stroke-width="9"/><ellipse cx="290" cy="375" rx="17" ry="13" fill="#fff"/><ellipse cx="290" cy="375" rx="8.5" ry="6.5" /><ellipse cx="405" cy="350" rx="19" ry="15" fill="#fff"/><ellipse cx="405" cy="350" rx="9.5" ry="7.5" /><ellipse cx="478" cy="315" rx="17" ry="13" fill="#fff"/><ellipse cx="478" cy="315" rx="8.5" ry="6.5" /><ellipse cx="178" cy="300" rx="13" ry="11" fill="#fff"/><ellipse cx="178" cy="300" rx="6.5" ry="5.5" /><ellipse cx="300" cy="340" rx="12" ry="10" fill="#fff"/><ellipse cx="300" cy="340" rx="6.0" ry="5.0" /><path d="M385,330 L385,352 M425,335 L425,355 M275,355 L275,380 M305,360 L305,382 M462,300 L462,320 M495,300 L495,320" /></g>
<g transform="translate(360 420) scale(0.16666666666666666)" stroke-width="6.00" ><path d="M85,300 L140,280 L205,315 L210,375 L165,405 L150,385 L85,345 Z" fill="#fff"/><path d="M85,300 L150,335 L205,315 M150,335 L150,385 L210,370 M100,318 L100,342 L138,362 L138,338" /><path d="M98,346 C70,365 45,395 40,478 L82,478 C84,430 105,400 150,388 Z" fill="#fff"/><path d="M118,356 C88,375 62,405 60,478 M136,368 C108,385 92,410 88,440" /><ellipse cx="525" cy="292" rx="22" ry="16" fill="#fff" stroke-width="13"/><ellipse cx="524" cy="288" rx="10" ry="6" /><path d="M532,272 L560,256 L566,276 L548,284" /><ellipse cx="330" cy="425" rx="115" ry="72" fill="#fff"/><path d="M340,353 C362,353 388,360 404,368" stroke="#fff" stroke-width="12" stroke-linecap="butt"/><path d="M335,354 L318,398 L296,420 L310,428 L300,444 C296,458 312,466 322,456 L326,440 L346,432 C360,400 385,380 406,371" stroke-width="7"/></g>
<g transform="translate(365 500) scale(0.16666666666666666)" stroke-width="6.00" ><path d="M72,175 C72,-8 520,-8 520,172 L520,255 C520,420 72,420 72,260 Z" fill="#fff"/><path d="M72,175 C72,356 520,356 520,172" stroke="#555"/><ellipse cx="296" cy="178" rx="208" ry="124" /><path d="M125,215 C160,150 420,140 470,212" /><ellipse cx="296" cy="243" rx="50" ry="28" /><ellipse cx="296" cy="248" rx="30" ry="16" /><path d="M215,238 C230,200 350,195 385,228 M200,260 C240,225 350,215 410,250" /><ellipse cx="355" cy="165" rx="12" ry="9" /><ellipse cx="405" cy="185" rx="12" ry="9" /><path d="M95,215 C95,262 105,302 180,332 L195,337 L200,290 C280,287 400,277 478,222" stroke-width="9"/><path d="M200,215 C170,190 140,215 150,250 C155,275 175,292 198,290" stroke-width="8"/><path d="M210,228 C185,218 168,238 178,258" /><path d="M130,80 L160,66 M430,66 L460,80" stroke-width="8"/><path d="M165,366 L150,384 L150,470 L180,470 L180,384 Z" fill="#fff"/><path d="M148,388L182,392.4M148,399L182,403.4M148,410L182,414.4M148,421L182,425.4M148,432L182,436.4M148,443L182,447.4M148,454L182,458.4M148,465L182,469.4" /><path d="M152,470 L152,925 M178,470 L178,925" /><path d="M138,925 L192,925 L194,960 L136,960 Z M146,960 L150,972 L180,972 L184,960" fill="#fff"/><path d="M345,440 L345,400 C348,390 372,390 375,400 L375,440" fill="#fff"/><path d="M345,404L375,408.0M345,414L375,418.0M345,424L375,428.0M345,434L375,438.0" /><path d="M330,445 C330,432 388,432 388,445 L388,468 C388,486 330,486 330,468 Z" fill="#fff"/><path d="M330,447 C335,460 383,460 388,447 M345,457 L345,480 M373,457 L373,480" /></g>
<g transform="translate(245 365) scale(0.13333)" stroke-width="7.5"><path d="M105,200 C105,40 495,30 500,150 L520,150 L520,178 L498,185 C495,215 470,260 410,295 L405,325 L360,335 L352,318 C320,325 280,325 252,318 L248,335 L210,328 L205,305 C160,285 125,260 112,262 L98,262 L98,238 L108,232 Z" fill="#fff"/><ellipse cx="300" cy="196" rx="180" ry="100" /><path d="M112,262 C140,300 175,310 205,318 M252,330 C285,338 320,336 352,330 M405,318 C450,290 485,240 498,195" /><path d="M178,100 L185,84 L200,88 M385,82 L398,80 L405,95 M482,135 L500,128 L520,150" /></g>
<g transform="translate(216.2 360) scale(0.25)" stroke-width="4.00" ><path d="M232,540 L232,580 C236,586 246,586 250,580 L250,540 Z M326,540 L326,574 C330,580 340,580 344,574 L344,540 Z" fill="#fff"/><path d="M200,510 C200,456 357,456 357,510 L357,528 C357,585 200,585 200,528 Z" fill="#fff"/><path d="M200,510 C200,566 357,566 357,510" /><ellipse cx="278" cy="508" rx="55" ry="26" /><ellipse cx="240" cy="525" rx="9" ry="6" /><ellipse cx="328" cy="510" rx="9" ry="6" /><path d="M245,492 L245,402 L250,398 L250,388 L255,384 L255,240 C255,228 300,228 300,240 L300,384 L305,388 L305,398 L310,402 L310,492 C310,510 245,510 245,492 Z" fill="#fff"/><ellipse cx="278" cy="240" rx="22" ry="9" /><ellipse cx="278" cy="241" rx="8" ry="4" /><path d="M255,310 C262,318 293,318 300,310 M255,384 C262,392 293,392 300,384 M250,398 C262,408 293,408 305,398 M245,405 C262,418 293,418 310,405" /><path d="M247,428 C263,445 243,470 259,494M257,428 C273,445 253,470 269,494M267,428 C283,445 263,470 279,494M277,428 C293,445 273,470 289,494M287,428 C303,445 283,470 299,494M297,428 C313,445 293,470 309,494" stroke="#333" stroke-width="5.5"/></g>
<g transform="translate(215 480) scale(0.25)" stroke-width="4.00" ><path d="M275,122 L170,122 L170,222 L275,222 M170,175 L200,175" stroke="#333" stroke-width="3.6"/><path d="M347.5,143.5L348.7,144.1L350.6,144.8L352.5,145.5L353.9,146.3L354.2,147.2L353.4,148.0L351.8,148.8L349.8,149.5L348.1,150.1L347.2,150.8L347.3,151.5L348.2,152.4L349.6,153.5L350.8,154.6L351.4,155.6L351.0,156.5L349.5,157.0L347.4,157.3L345.2,157.5L343.3,157.7L342.2,158.1L342.0,158.9L342.4,160.0L343.0,161.4L343.4,162.7L343.1,163.7L342.0,164.2L340.2,164.3L338.1,164.0L335.9,163.7L334.2,163.5L333.0,163.7L332.4,164.5L332.1,165.7L331.8,167.1L331.3,168.3L330.3,169.1L328.8,169.2L327.1,168.8L325.3,168.0L323.6,167.1L322.1,166.7L320.9,166.7L319.9,167.4L318.9,168.5L317.7,169.7L316.4,170.6L315.0,171.0L313.6,170.6L312.3,169.7L311.1,168.5L310.1,167.4L309.1,166.7L307.9,166.7L306.4,167.1L304.7,168.0L302.9,168.8L301.2,169.2L299.7,169.1L298.7,168.3L298.2,167.1L297.9,165.7L297.6,164.5L297.0,163.7L295.8,163.5L294.1,163.7L291.9,164.0L289.8,164.3L288.0,164.2L286.9,163.7L286.6,162.7L287.0,161.4L287.6,160.0L288.0,158.9L287.8,158.1L286.7,157.7L284.8,157.5L282.6,157.3L280.5,157.0L279.0,156.5L278.6,155.6L279.2,154.6L280.4,153.5L281.8,152.4L282.7,151.5L282.8,150.8L281.9,150.1L280.2,149.5L278.2,148.8L276.6,148.0L275.8,147.2L276.1,146.3L277.5,145.5L279.4,144.8L281.3,144.1L282.5,143.5" fill="#fff"/><path d="M276.1,125L276.1,147L353.9,147L353.9,125Z" fill="#fff" stroke="none"/><path d="M347.5,143.5L348.7,144.1L350.6,144.8L352.5,145.5L353.9,146.3L354.2,147.2L353.4,148.0L351.8,148.8L349.8,149.5L348.1,150.1L347.2,150.8L347.3,151.5L348.2,152.4L349.6,153.5L350.8,154.6L351.4,155.6L351.0,156.5L349.5,157.0L347.4,157.3L345.2,157.5L343.3,157.7L342.2,158.1L342.0,158.9L342.4,160.0L343.0,161.4L343.4,162.7L343.1,163.7L342.0,164.2L340.2,164.3L338.1,164.0L335.9,163.7L334.2,163.5L333.0,163.7L332.4,164.5L332.1,165.7L331.8,167.1L331.3,168.3L330.3,169.1L328.8,169.2L327.1,168.8L325.3,168.0L323.6,167.1L322.1,166.7L320.9,166.7L319.9,167.4L318.9,168.5L317.7,169.7L316.4,170.6L315.0,171.0L313.6,170.6L312.3,169.7L311.1,168.5L310.1,167.4L309.1,166.7L307.9,166.7L306.4,167.1L304.7,168.0L302.9,168.8L301.2,169.2L299.7,169.1L298.7,168.3L298.2,167.1L297.9,165.7L297.6,164.5L297.0,163.7L295.8,163.5L294.1,163.7L291.9,164.0L289.8,164.3L288.0,164.2L286.9,163.7L286.6,162.7L287.0,161.4L287.6,160.0L288.0,158.9L287.8,158.1L286.7,157.7L284.8,157.5L282.6,157.3L280.5,157.0L279.0,156.5L278.6,155.6L279.2,154.6L280.4,153.5L281.8,152.4L282.7,151.5L282.8,150.8L281.9,150.1L280.2,149.5L278.2,148.8L276.6,148.0L275.8,147.2L276.1,146.3L277.5,145.5L279.4,144.8L281.3,144.1L282.5,143.5" /><path d="M352.7,123.0L352.7,145.0M351.1,131.9L351.1,153.9M344.0,139.8L344.0,161.8M332.5,145.5L332.5,167.5M318.3,148.0L318.3,170.0M303.6,147.0L303.6,169.0M290.7,142.7L290.7,164.7M281.5,135.7L281.5,157.7M277.3,127.0L277.3,149.0" stroke-width="7"/><path d="M354.2,125.0L352.5,126.5L349.1,127.7L347.1,128.9L348.2,130.4L350.6,132.4L351.3,134.2L348.7,135.2L344.8,135.5L342.2,136.1L342.3,137.8L343.3,140.2L342.7,142.0L339.8,142.3L335.9,141.7L333.2,141.6L332.2,143.2L331.6,145.6L330.0,147.2L327.1,146.8L323.9,145.3L321.4,144.6L319.5,145.8L317.5,147.9L315.0,149.0L312.5,147.9L310.5,145.8L308.6,144.6L306.1,145.3L302.9,146.8L300.0,147.2L298.4,145.6L297.8,143.2L296.8,141.6L294.1,141.7L290.2,142.3L287.3,142.0L286.7,140.2L287.7,137.8L287.8,136.1L285.2,135.5L281.3,135.2L278.7,134.2L279.4,132.4L281.8,130.4L282.9,128.9L280.9,127.7L277.5,126.5L275.8,125.0L277.5,123.5L280.9,122.3L282.9,121.1L281.8,119.6L279.4,117.6L278.7,115.8L281.3,114.8L285.2,114.5L287.8,113.9L287.7,112.2L286.7,109.8L287.3,108.0L290.2,107.7L294.1,108.3L296.8,108.4L297.8,106.8L298.4,104.4L300.0,102.8L302.9,103.2L306.1,104.7L308.6,105.4L310.5,104.2L312.5,102.1L315.0,101.0L317.5,102.1L319.5,104.2L321.4,105.4L323.9,104.7L327.1,103.2L330.0,102.8L331.6,104.4L332.2,106.8L333.2,108.4L335.9,108.3L339.8,107.7L342.7,108.0L343.3,109.8L342.3,112.2L342.2,113.9L344.8,114.5L348.7,114.8L351.3,115.8L350.6,117.6L348.2,119.6L347.1,121.1L349.1,122.3L352.5,123.5L354.2,125.0" fill="#fff"/><ellipse cx="315" cy="125" rx="19.8" ry="12.100000000000001" /><ellipse cx="315" cy="126" rx="11.52" ry="7.04" /><path d="M270.5,176.5L271.7,177.1L273.6,177.8L275.5,178.5L276.9,179.3L277.2,180.2L276.4,181.0L274.8,181.8L272.8,182.5L271.1,183.1L270.2,183.8L270.3,184.5L271.2,185.4L272.6,186.5L273.8,187.6L274.4,188.6L274.0,189.5L272.5,190.0L270.4,190.3L268.2,190.5L266.3,190.7L265.2,191.1L265.0,191.9L265.4,193.0L266.0,194.4L266.4,195.7L266.1,196.7L265.0,197.2L263.2,197.3L261.1,197.0L258.9,196.7L257.2,196.5L256.0,196.7L255.4,197.5L255.1,198.7L254.8,200.1L254.3,201.3L253.3,202.1L251.8,202.2L250.1,201.8L248.3,201.0L246.6,200.1L245.1,199.7L243.9,199.7L242.9,200.4L241.9,201.5L240.7,202.7L239.4,203.6L238.0,204.0L236.6,203.6L235.3,202.7L234.1,201.5L233.1,200.4L232.1,199.7L230.9,199.7L229.4,200.1L227.7,201.0L225.9,201.8L224.2,202.2L222.7,202.1L221.7,201.3L221.2,200.1L220.9,198.7L220.6,197.5L220.0,196.7L218.8,196.5L217.1,196.7L214.9,197.0L212.8,197.3L211.0,197.2L209.9,196.7L209.6,195.7L210.0,194.4L210.6,193.0L211.0,191.9L210.8,191.1L209.7,190.7L207.8,190.5L205.6,190.3L203.5,190.0L202.0,189.5L201.6,188.6L202.2,187.6L203.4,186.5L204.8,185.4L205.7,184.5L205.8,183.8L204.9,183.1L203.2,182.5L201.2,181.8L199.6,181.0L198.8,180.2L199.1,179.3L200.5,178.5L202.4,177.8L204.3,177.1L205.5,176.5" fill="#fff"/><path d="M199.1,158L199.1,180L276.9,180L276.9,158Z" fill="#fff" stroke="none"/><path d="M270.5,176.5L271.7,177.1L273.6,177.8L275.5,178.5L276.9,179.3L277.2,180.2L276.4,181.0L274.8,181.8L272.8,182.5L271.1,183.1L270.2,183.8L270.3,184.5L271.2,185.4L272.6,186.5L273.8,187.6L274.4,188.6L274.0,189.5L272.5,190.0L270.4,190.3L268.2,190.5L266.3,190.7L265.2,191.1L265.0,191.9L265.4,193.0L266.0,194.4L266.4,195.7L266.1,196.7L265.0,197.2L263.2,197.3L261.1,197.0L258.9,196.7L257.2,196.5L256.0,196.7L255.4,197.5L255.1,198.7L254.8,200.1L254.3,201.3L253.3,202.1L251.8,202.2L250.1,201.8L248.3,201.0L246.6,200.1L245.1,199.7L243.9,199.7L242.9,200.4L241.9,201.5L240.7,202.7L239.4,203.6L238.0,204.0L236.6,203.6L235.3,202.7L234.1,201.5L233.1,200.4L232.1,199.7L230.9,199.7L229.4,200.1L227.7,201.0L225.9,201.8L224.2,202.2L222.7,202.1L221.7,201.3L221.2,200.1L220.9,198.7L220.6,197.5L220.0,196.7L218.8,196.5L217.1,196.7L214.9,197.0L212.8,197.3L211.0,197.2L209.9,196.7L209.6,195.7L210.0,194.4L210.6,193.0L211.0,191.9L210.8,191.1L209.7,190.7L207.8,190.5L205.6,190.3L203.5,190.0L202.0,189.5L201.6,188.6L202.2,187.6L203.4,186.5L204.8,185.4L205.7,184.5L205.8,183.8L204.9,183.1L203.2,182.5L201.2,181.8L199.6,181.0L198.8,180.2L199.1,179.3L200.5,178.5L202.4,177.8L204.3,177.1L205.5,176.5" /><path d="M275.7,156.0L275.7,178.0M274.1,164.9L274.1,186.9M267.0,172.8L267.0,194.8M255.5,178.5L255.5,200.5M241.3,181.0L241.3,203.0M226.6,180.0L226.6,202.0M213.7,175.7L213.7,197.7M204.5,168.7L204.5,190.7M200.3,160.0L200.3,182.0" stroke-width="7"/><path d="M277.2,158.0L275.5,159.5L272.1,160.7L270.1,161.9L271.2,163.4L273.6,165.4L274.3,167.2L271.7,168.2L267.8,168.5L265.2,169.1L265.3,170.8L266.3,173.2L265.7,175.0L262.8,175.3L258.9,174.7L256.2,174.6L255.2,176.2L254.6,178.6L253.0,180.2L250.1,179.8L246.9,178.3L244.4,177.6L242.5,178.8L240.5,180.9L238.0,182.0L235.5,180.9L233.5,178.8L231.6,177.6L229.1,178.3L225.9,179.8L223.0,180.2L221.4,178.6L220.8,176.2L219.8,174.6L217.1,174.7L213.2,175.3L210.3,175.0L209.7,173.2L210.7,170.8L210.8,169.1L208.2,168.5L204.3,168.2L201.7,167.2L202.4,165.4L204.8,163.4L205.9,161.9L203.9,160.7L200.5,159.5L198.8,158.0L200.5,156.5L203.9,155.3L205.9,154.1L204.8,152.6L202.4,150.6L201.7,148.8L204.3,147.8L208.2,147.5L210.8,146.9L210.7,145.2L209.7,142.8L210.3,141.0L213.2,140.7L217.1,141.3L219.8,141.4L220.8,139.8L221.4,137.4L223.0,135.8L225.9,136.2L229.1,137.7L231.6,138.4L233.5,137.2L235.5,135.1L238.0,134.0L240.5,135.1L242.5,137.2L244.4,138.4L246.9,137.7L250.1,136.2L253.0,135.8L254.6,137.4L255.2,139.8L256.2,141.4L258.9,141.3L262.8,140.7L265.7,141.0L266.3,142.8L265.3,145.2L265.2,146.9L267.8,147.5L271.7,147.8L274.3,148.8L273.6,150.6L271.2,152.6L270.1,154.1L272.1,155.3L275.5,156.5L277.2,158.0" fill="#fff"/><ellipse cx="238" cy="158" rx="19.8" ry="12.100000000000001" /><ellipse cx="238" cy="159" rx="11.52" ry="7.04" /><path d="M347.5,208.5L348.7,209.1L350.6,209.8L352.5,210.5L353.9,211.3L354.2,212.2L353.4,213.0L351.8,213.8L349.8,214.5L348.1,215.1L347.2,215.8L347.3,216.5L348.2,217.4L349.6,218.5L350.8,219.6L351.4,220.6L351.0,221.5L349.5,222.0L347.4,222.3L345.2,222.5L343.3,222.7L342.2,223.1L342.0,223.9L342.4,225.0L343.0,226.4L343.4,227.7L343.1,228.7L342.0,229.2L340.2,229.3L338.1,229.0L335.9,228.7L334.2,228.5L333.0,228.7L332.4,229.5L332.1,230.7L331.8,232.1L331.3,233.3L330.3,234.1L328.8,234.2L327.1,233.8L325.3,233.0L323.6,232.1L322.1,231.7L320.9,231.7L319.9,232.4L318.9,233.5L317.7,234.7L316.4,235.6L315.0,236.0L313.6,235.6L312.3,234.7L311.1,233.5L310.1,232.4L309.1,231.7L307.9,231.7L306.4,232.1L304.7,233.0L302.9,233.8L301.2,234.2L299.7,234.1L298.7,233.3L298.2,232.1L297.9,230.7L297.6,229.5L297.0,228.7L295.8,228.5L294.1,228.7L291.9,229.0L289.8,229.3L288.0,229.2L286.9,228.7L286.6,227.7L287.0,226.4L287.6,225.0L288.0,223.9L287.8,223.1L286.7,222.7L284.8,222.5L282.6,222.3L280.5,222.0L279.0,221.5L278.6,220.6L279.2,219.6L280.4,218.5L281.8,217.4L282.7,216.5L282.8,215.8L281.9,215.1L280.2,214.5L278.2,213.8L276.6,213.0L275.8,212.2L276.1,211.3L277.5,210.5L279.4,209.8L281.3,209.1L282.5,208.5" fill="#fff"/><path d="M276.1,190L276.1,212L353.9,212L353.9,190Z" fill="#fff" stroke="none"/><path d="M347.5,208.5L348.7,209.1L350.6,209.8L352.5,210.5L353.9,211.3L354.2,212.2L353.4,213.0L351.8,213.8L349.8,214.5L348.1,215.1L347.2,215.8L347.3,216.5L348.2,217.4L349.6,218.5L350.8,219.6L351.4,220.6L351.0,221.5L349.5,222.0L347.4,222.3L345.2,222.5L343.3,222.7L342.2,223.1L342.0,223.9L342.4,225.0L343.0,226.4L343.4,227.7L343.1,228.7L342.0,229.2L340.2,229.3L338.1,229.0L335.9,228.7L334.2,228.5L333.0,228.7L332.4,229.5L332.1,230.7L331.8,232.1L331.3,233.3L330.3,234.1L328.8,234.2L327.1,233.8L325.3,233.0L323.6,232.1L322.1,231.7L320.9,231.7L319.9,232.4L318.9,233.5L317.7,234.7L316.4,235.6L315.0,236.0L313.6,235.6L312.3,234.7L311.1,233.5L310.1,232.4L309.1,231.7L307.9,231.7L306.4,232.1L304.7,233.0L302.9,233.8L301.2,234.2L299.7,234.1L298.7,233.3L298.2,232.1L297.9,230.7L297.6,229.5L297.0,228.7L295.8,228.5L294.1,228.7L291.9,229.0L289.8,229.3L288.0,229.2L286.9,228.7L286.6,227.7L287.0,226.4L287.6,225.0L288.0,223.9L287.8,223.1L286.7,222.7L284.8,222.5L282.6,222.3L280.5,222.0L279.0,221.5L278.6,220.6L279.2,219.6L280.4,218.5L281.8,217.4L282.7,216.5L282.8,215.8L281.9,215.1L280.2,214.5L278.2,213.8L276.6,213.0L275.8,212.2L276.1,211.3L277.5,210.5L279.4,209.8L281.3,209.1L282.5,208.5" /><path d="M352.7,188.0L352.7,210.0M351.1,196.9L351.1,218.9M344.0,204.8L344.0,226.8M332.5,210.5L332.5,232.5M318.3,213.0L318.3,235.0M303.6,212.0L303.6,234.0M290.7,207.7L290.7,229.7M281.5,200.7L281.5,222.7M277.3,192.0L277.3,214.0" stroke-width="7"/><path d="M354.2,190.0L352.5,191.5L349.1,192.7L347.1,193.9L348.2,195.4L350.6,197.4L351.3,199.2L348.7,200.2L344.8,200.5L342.2,201.1L342.3,202.8L343.3,205.2L342.7,207.0L339.8,207.3L335.9,206.7L333.2,206.6L332.2,208.2L331.6,210.6L330.0,212.2L327.1,211.8L323.9,210.3L321.4,209.6L319.5,210.8L317.5,212.9L315.0,214.0L312.5,212.9L310.5,210.8L308.6,209.6L306.1,210.3L302.9,211.8L300.0,212.2L298.4,210.6L297.8,208.2L296.8,206.6L294.1,206.7L290.2,207.3L287.3,207.0L286.7,205.2L287.7,202.8L287.8,201.1L285.2,200.5L281.3,200.2L278.7,199.2L279.4,197.4L281.8,195.4L282.9,193.9L280.9,192.7L277.5,191.5L275.8,190.0L277.5,188.5L280.9,187.3L282.9,186.1L281.8,184.6L279.4,182.6L278.7,180.8L281.3,179.8L285.2,179.5L287.8,178.9L287.7,177.2L286.7,174.8L287.3,173.0L290.2,172.7L294.1,173.3L296.8,173.4L297.8,171.8L298.4,169.4L300.0,167.8L302.9,168.2L306.1,169.7L308.6,170.4L310.5,169.2L312.5,167.1L315.0,166.0L317.5,167.1L319.5,169.2L321.4,170.4L323.9,169.7L327.1,168.2L330.0,167.8L331.6,169.4L332.2,171.8L333.2,173.4L335.9,173.3L339.8,172.7L342.7,173.0L343.3,174.8L342.3,177.2L342.2,178.9L344.8,179.5L348.7,179.8L351.3,180.8L350.6,182.6L348.2,184.6L347.1,186.1L349.1,187.3L352.5,188.5L354.2,190.0" fill="#fff"/><ellipse cx="315" cy="190" rx="19.8" ry="12.100000000000001" /><ellipse cx="315" cy="191" rx="11.52" ry="7.04" /><path d="M179,304 C179,222.7 381,222.7 381,304 L381,344 C381,425.3 179,425.3 179,344 Z" fill="#fff"/><ellipse cx="280" cy="304" rx="101" ry="61" /><path d="M196.2,282.6L196.2,321.6M204.2,282.6L204.2,321.6M196.2,282.6L204.2,282.6M209.5,272.4L209.5,311.4M217.5,272.4L217.5,311.4M209.5,272.4L217.5,272.4M222.8,265.8L222.8,304.8M230.8,265.8L230.8,304.8M222.8,265.8L230.8,265.8M236.1,261.2L236.1,300.2M244.1,261.2L244.1,300.2M236.1,261.2L244.1,261.2M249.4,258.3L249.4,297.3M257.4,258.3L257.4,297.3M249.4,258.3L257.4,258.3M262.7,256.6L262.7,295.6M270.7,256.6L270.7,295.6M262.7,256.6L270.7,256.6M276.0,256.0L276.0,295.0M284.0,256.0L284.0,295.0M276.0,256.0L284.0,256.0M289.3,256.6L289.3,295.6M297.3,256.6L297.3,295.6M289.3,256.6L297.3,256.6M302.6,258.3L302.6,297.3M310.6,258.3L310.6,297.3M302.6,258.3L310.6,258.3M315.9,261.2L315.9,300.2M323.9,261.2L323.9,300.2M315.9,261.2L323.9,261.2M329.2,265.8L329.2,304.8M337.2,265.8L337.2,304.8M329.2,265.8L337.2,265.8M342.5,272.4L342.5,311.4M350.5,272.4L350.5,311.4M342.5,272.4L350.5,272.4M355.8,282.6L355.8,321.6M363.8,282.6L363.8,321.6M355.8,282.6L363.8,282.6" stroke="#333"/><path d="M188,306 C194,378 366,378 372,306 L381,304 L381,324 C370,404 190,404 179,324 L179,304 Z" fill="#fff" stroke="none"/><path d="M188,306 C194,378 366,378 372,306" /><path d="M179,304 C179,385.3 381,385.3 381,304" /><ellipse cx="280" cy="304" rx="92" ry="53" stroke-dasharray="0"/><path d="M179,304 L179,344 C179,425.3 381,425.3 381,344 L381,304" /><path d="M193,352 L225,362 L225,388 L199,378 Z M255,364 L303,364 L303,398 L255,398 Z M337,362 L369,352 L364,378 L337,388 Z" fill="#fff"/><path d="M262,372 L296,372 M262,372 L262,396 M296,372 L296,396" /></g>
<g transform="translate(90 545) scale(0.25)" stroke-width="4.00" ><path d="M397,158 C397,128 467,128 467,158 C467,168 455,176 452,180 L450,190 C440,198 424,198 414,190 L412,180 C408,176 397,168 397,158 Z" fill="#fff"/><path d="M397,158 C405,180 460,180 467,158" /><ellipse cx="432" cy="152" rx="14" ry="10" /><ellipse cx="432" cy="154" rx="7" ry="5" /><path d="M195,205 L235,168 L335,218 L335,300 L325,306 L325,322 L272,352 L200,312 L200,294 L195,290 Z" fill="#fff"/><path d="M195,205 L278,255 L335,218 M278,255 L278,340 M195,290 L278,340 L335,300 M200,294 L200,312 M272,334 L272,352 M300,330 L300,318 L315,310 L315,322" /><path d="M213,200 L296,238 M206,208 L290,248" /><path d="M202,218 L286,258" stroke-width="9" stroke-dasharray="2.5 2.5" stroke-linecap="butt"/><path d="M205,400 L245,375 L317,418 L317,470 L276,500 L205,458 Z" fill="#fff"/><path d="M205,400 L276,445 L317,418 M276,445 L276,500 M295,452 L306,444 L306,462 L297,470" /><path d="M222,468 L222,496 L240,506 L240,478 M246,481 L246,508 L262,516 L262,490 M268,494 L268,520 L286,512 L286,498 M276,470 L276,515" fill="#fff"/></g>
<g transform="translate(215 660) scale(0.25)" stroke-width="4.00" ><path d="M108,242 L155,218 C166,222 168,240 160,246 L118,268 Z" fill="#fff"/><path d="M122,236 L128,262 M131,231 L137,257 M140,227 L146,253 M149,222 L155,249" /><path d="M72,262 C68,245 95,232 108,238 C120,245 122,262 118,272 C115,290 90,298 78,290 C70,285 70,272 72,262 Z" fill="#fff"/><ellipse cx="112" cy="262" rx="10" ry="27" fill="#fff" transform="rotate(-22 112 262)"/><path d="M72,262 C68,245 92,234 104,240 C112,248 112,268 106,278 C100,292 88,296 78,290 C70,285 70,272 72,262 Z" fill="#fff"/><path d="M76,262 C86,258 96,262 100,268 M80,282 C88,282 96,278 100,272 M100,268 L100,272" /><path d="M234,169 C213,195 199,227 201,255 C203,279 213,297 222,307 C255,339 311,353 357,351 C381,349 395,339 404,325 L424,324 L496,196 L524,176 L552,176 L572,200 C590,204 600,196 600,176 C596,160 585,152 576,152 L536,144 L496,156 L476,180 L400,296 L388,295 C376,304 350,311 334,311 C300,310 262,300 227,283 L215,256 C227,237 259,218 278,206 L278,174 C276,162 266,150 255,148 C245,148 237,156 234,169 Z" fill="#fff"/><path d="M203,262 C206,290 240,318 290,330 C330,338 372,330 392,312 M408,312 L484,188 L512,164 L540,160 M416,318 L490,192 M234,169 C245,175 262,178 276,176" /><ellipse cx="250" cy="167" rx="5" ry="6" /><ellipse cx="580" cy="176" rx="8" ry="10" /></g>
<g transform="translate(350 640) scale(0.25)" stroke-width="4.00" ><path d="M105,268 C105,172 402,172 402,268 L402,318 C400,450 105,450 105,330 Z" fill="#fff"/><ellipse cx="253" cy="268" rx="148" ry="70" /><ellipse cx="253" cy="272" rx="134" ry="58" /><path d="M105,268 C108,364 398,364 402,268 M106,285 C116,384 394,384 401,285 M105,322 C110,428 395,428 402,310 M105,330 C112,446 395,446 402,318" /><path d="M118,255 C125,235 150,225 165,222 M345,238 C365,245 380,255 385,262" /><path d="M124,292 C150,345 360,345 384,290" /><path d="M262,382 C280,372 310,370 322,374 C312,384 280,388 262,382 Z" /></g>
<g transform="translate(470 80) scale(0.13333333333333333)" stroke-width="7.50" ><path d="M178,240 L345,150 L345,108 L440,155 L362,290 L350,264 L178,352 Z" fill="#111" stroke="#111"/><path d="M165,246 L178,240 L178,352 L165,346 Z" fill="#fff" stroke="#111"/><path d="M190,246 L338,166" stroke="#fff" stroke-width="5"/><path d="M345,112 L345,150" stroke="#fff" stroke-width="4"/></g>
<text transform="matrix(1,-0.54,0,1,495.8,126.6)" font-size="16.5" font-weight="bold" fill="#fff" stroke="none" textLength="24" lengthAdjust="spacingAndGlyphs">FWD</text>
<path d="M330,150.5 L284.5,177" stroke="#333" stroke-width="0.9" stroke-dasharray="11 2 2 2"/>
<path d="M238.7,169.5 L238.7,178" stroke="#333" stroke-width="0.9" stroke-dasharray="4 2"/>
<text y="694" opacity="0.53" fill="#ff0000" stroke="#ff0000" stroke-width="1.8" stroke-linejoin="round" font-size="40.5" font-weight="bold" font-style="italic"><tspan x="67.5" textLength="96.5" lengthAdjust="spacingAndGlyphs">www</tspan><tspan x="170.5" textLength="8" lengthAdjust="spacingAndGlyphs">.</tspan><tspan x="180.5" textLength="264.5" lengthAdjust="spacingAndGlyphs">partskatalog</tspan><tspan x="447" textLength="51.5" lengthAdjust="spacingAndGlyphs">.ru</tspan></text>
</svg>
</body></html>
